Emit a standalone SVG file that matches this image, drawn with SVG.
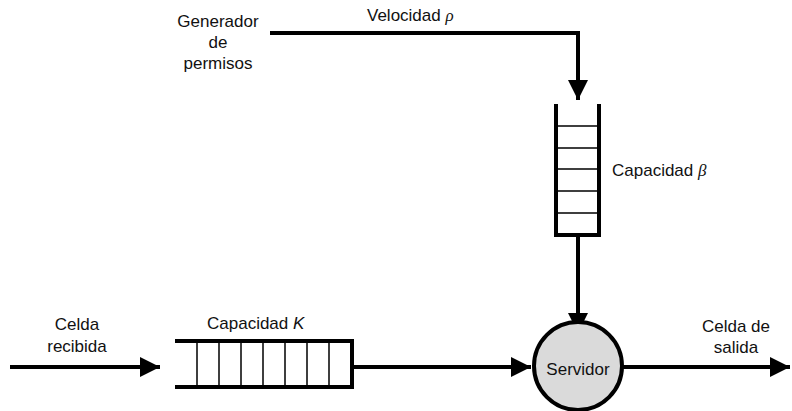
<svg xmlns="http://www.w3.org/2000/svg" width="792" height="411" viewBox="0 0 792 411">
<defs>
<style>
text{font-family:"Liberation Sans",Arial,sans-serif;font-size:17px;fill:#111}
.ln{stroke:#000;stroke-width:4;fill:none}
.thin{stroke:#000;stroke-width:1.5;fill:none}
.it{font-style:italic;font-family:"Liberation Serif",serif}
</style>
<marker id="ah" viewBox="0 0 10 10" refX="10" refY="5" markerWidth="5" markerHeight="7" markerUnits="strokeWidth" orient="auto">
<path d="M0,0 L10,5 L0,10 z" fill="#000"/>
</marker>
</defs>
<rect width="792" height="411" fill="#fff"/>
<g id="connectors">
<path class="ln" d="M270,33 H578 V100" marker-end="url(#ah)"/>
<path class="ln" d="M578,236 V333" marker-end="url(#ah)"/>
<path class="ln" d="M10,367 H160" marker-end="url(#ah)"/>
<path class="ln" d="M352,367 H531" marker-end="url(#ah)"/>
<path class="ln" d="M623,367 H790" marker-end="url(#ah)"/>
</g>
<g id="generador">
<text x="218" y="27" text-anchor="middle">Generador</text>
<text x="218" y="48" text-anchor="middle">de</text>
<text x="218" y="69" text-anchor="middle">permisos</text>
</g>
<g id="velocidad">
<text x="367" y="21">Velocidad <tspan class="it">ρ</tspan></text>
</g>
<g id="cola-beta">
<path class="ln" d="M556,104 V235 H599 V104"/>
<path class="thin" d="M556,126 H599 M556,148 H599 M556,169 H599 M556,191 H599 M556,213 H599"/>
<text x="612" y="176">Capacidad <tspan class="it">β</tspan></text>
</g>
<g id="cola-k">
<path class="ln" d="M175,341 H352 V387 H175"/>
<path class="thin" d="M197,341 V387 M219,341 V387 M241,341 V387 M263,341 V387 M285,341 V387 M307,341 V387 M329,341 V387"/>
<text x="207" y="329">Capacidad <tspan font-style="italic">K</tspan></text>
</g>
<g id="entrada">
<text x="77" y="330" text-anchor="middle">Celda</text>
<text x="77" y="352" text-anchor="middle">recibida</text>
</g>
<g id="servidor">
<circle cx="578" cy="366" r="44" fill="#dadada" stroke="#000" stroke-width="4"/>
<text x="578" y="375" text-anchor="middle">Servidor</text>
</g>
<g id="salida">
<text x="736" y="332" text-anchor="middle">Celda de</text>
<text x="736" y="353" text-anchor="middle">salida</text>
</g>
</svg>
